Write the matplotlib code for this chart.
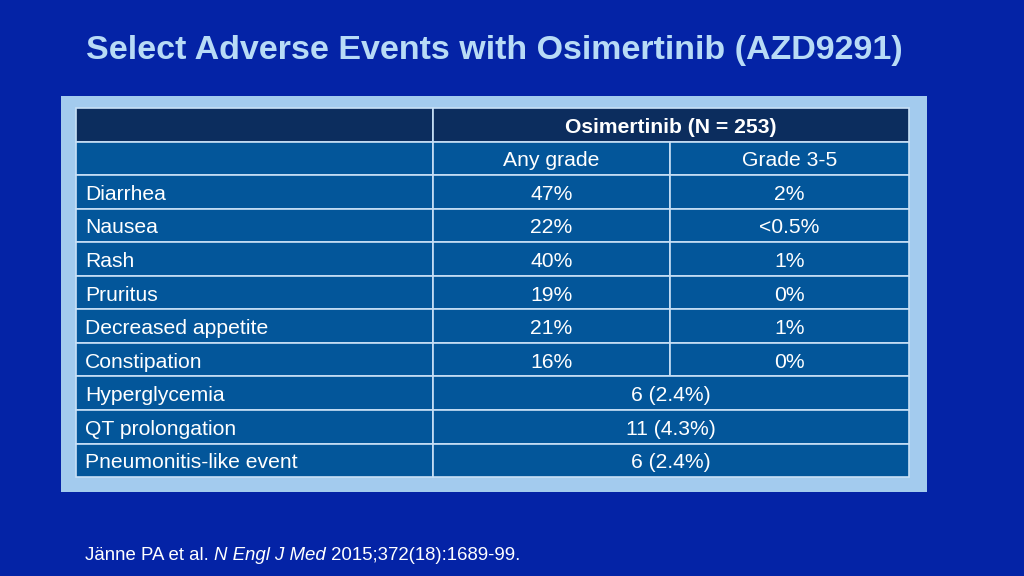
import matplotlib.pyplot as plt
from matplotlib.patches import Rectangle

# Datos de la tabla
titulo = 'Select Adverse Events with Osimertinib (AZD9291)'
cabecera = 'Osimertinib (N = 253)'
subcabecera = ['Any grade', 'Grade 3-5']
eventos = ['Diarrhea', 'Nausea', 'Rash', 'Pruritus', 'Decreased appetite',
           'Constipation', 'Hyperglycemia', 'QT prolongation', 'Pneumonitis-like event']
cualquier_grado = ['47%', '22%', '40%', '19%', '21%', '16%', '6 (2.4%)', '11 (4.3%)', '6 (2.4%)']
grado_3_5 = ['2%', '<0.5%', '1%', '0%', '1%', '0%', None, None, None]
referencia = ('Jänne PA et al. ', 'N Engl J Med', ' 2015;372(18):1689-99.')

# Colores
fondo = '#0423a6'
panel = '#a3cbee'
celda_cab = '#0c2d5e'
celda = '#03569a'
linea = '#c8e0f6'
col_titulo = '#b8dbf6'

plt.rcParams['font.family'] = ['Liberation Sans', 'DejaVu Sans']

fig = plt.figure(figsize=(10.24, 5.76), dpi=100, facecolor=fondo)
ax = fig.add_axes([0, 0, 1, 1])
ax.set_xlim(0, 1024)
ax.set_ylim(576, 0)
ax.axis('off')

ax.text(86, 51, titulo, fontsize=24.5, fontweight='bold', color=col_titulo, va='center', ha='left')

# Panel claro
ax.add_patch(Rectangle((61, 96), 866, 396, facecolor=panel, edgecolor='none'))

x0, x1, x2, x3 = 76, 433, 670, 909
y_top = 108
alto = 33.55
tam = 15.2

def celda_rect(xa, xb, fila, color):
    ax.add_patch(Rectangle((xa, y_top + fila * alto), xb - xa, alto,
                           facecolor=color, edgecolor=linea, linewidth=1.2))

def texto(x, fila, s, ha='center', bold=False):
    ax.text(x, y_top + (fila + 0.5) * alto + 2.5, s, fontsize=tam, color='white',
            ha=ha, va='center', fontweight='bold' if bold else 'normal')

# Cabecera
celda_rect(x0, x1, 0, celda_cab)
celda_rect(x1, x3, 0, celda_cab)
texto((x1 + x3) / 2, 0, cabecera, bold=True)

# Subcabecera
celda_rect(x0, x1, 1, celda)
celda_rect(x1, x2, 1, celda)
celda_rect(x2, x3, 1, celda)
texto((x1 + x2) / 2, 1, subcabecera[0])
texto((x2 + x3) / 2, 1, subcabecera[1])

for i, (ev, a, g) in enumerate(zip(eventos, cualquier_grado, grado_3_5)):
    fila = i + 2
    celda_rect(x0, x1, fila, celda)
    texto(x0 + 9, fila, ev, ha='left')
    if g is None:
        celda_rect(x1, x3, fila, celda)
        texto((x1 + x3) / 2, fila, a)
    else:
        celda_rect(x1, x2, fila, celda)
        celda_rect(x2, x3, fila, celda)
        texto((x1 + x2) / 2, fila, a)
        texto((x2 + x3) / 2, fila, g)

# Referencia
t1 = ax.text(85, 555, referencia[0], fontsize=13.4, color='white', va='center', ha='left')
t2 = ax.annotate(referencia[1], xy=(1, 0.5), xycoords=t1, fontsize=13.4, color='white',
                 va='center', ha='left', style='italic')
ax.annotate(referencia[2], xy=(1, 0.5), xycoords=t2, fontsize=13.4, color='white',
            va='center', ha='left')

fig.savefig('out.png', dpi=100, facecolor=fondo)
